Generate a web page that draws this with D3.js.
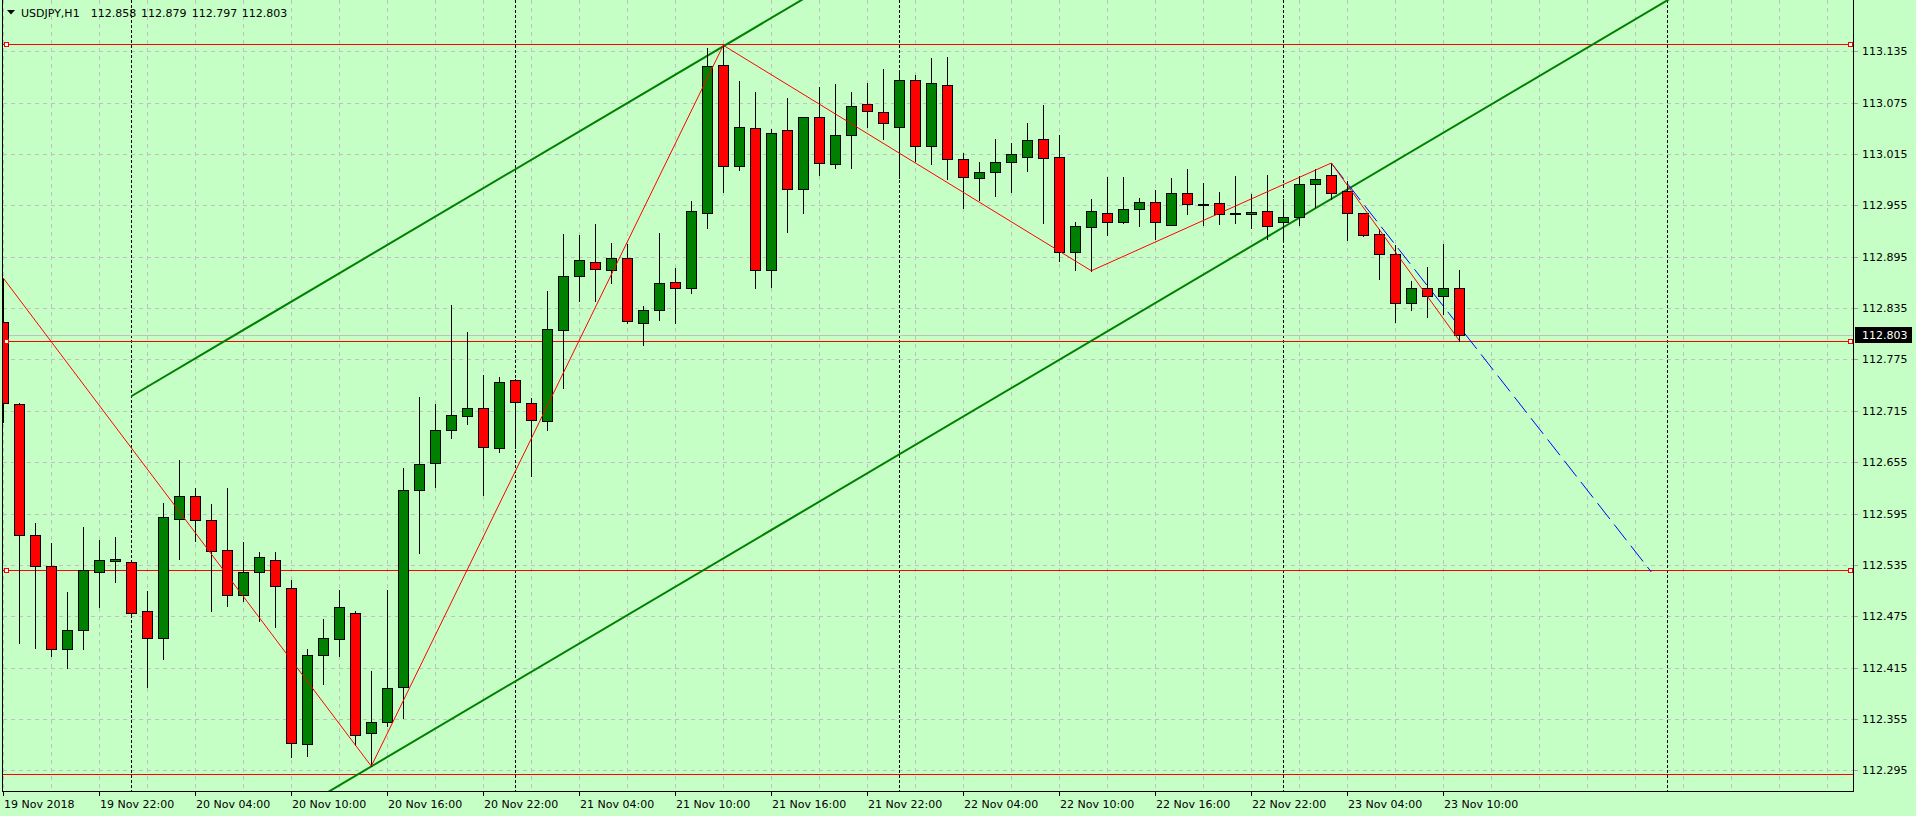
<!DOCTYPE html>
<html><head><meta charset="utf-8">
<script src="https://cdn.jsdelivr.net/npm/d3@7"></script>
<style>
html,body{margin:0;padding:0;background:#c6ffc6;overflow:hidden}
svg{display:block}
text{font-family:"DejaVu Sans",sans-serif;font-size:11px}
</style>
</head><body>
<svg id="chart" width="1916" height="816"></svg>
<script>
// ---------------- data ----------------
const symbolTitle = "USDJPY,H1";
const titleValues = ["112.858", "112.879", "112.797", "112.803"];

const opens = [112.819,112.723,112.570,112.534,112.437,112.459,112.527,112.540,112.538,112.481,
 112.449,112.589,112.615,112.587,112.552,112.500,112.527,112.541,112.508,112.326,
 112.430,112.448,112.479,112.339,112.352,112.392,112.623,112.654,112.692,112.709,
 112.718,112.672,112.751,112.724,112.703,112.809,112.872,112.889,112.879,112.893,
 112.818,112.833,112.865,112.858,112.946,113.119,113.001,113.045,112.880,113.043,
 112.974,113.058,113.003,113.037,113.074,113.064,113.047,113.101,113.024,113.096,
 113.009,112.987,112.994,113.006,113.012,113.032,113.012,112.900,112.930,112.946,
 112.936,112.951,112.959,112.932,112.970,112.957,112.958,112.946,112.945,112.948,
 112.936,112.941,112.980,112.991,112.972,112.946,112.922,112.898,112.841,112.858,
 112.849,112.858];
const highs = [112.870,112.724,112.584,112.560,112.503,112.579,112.564,112.568,112.539,112.504,
 112.607,112.657,112.625,112.606,112.625,112.562,112.550,112.550,112.517,112.437,
 112.472,112.506,112.481,112.411,112.506,112.648,112.731,112.723,112.839,112.807,
 112.757,112.755,112.752,112.730,112.855,112.921,112.920,112.933,112.911,112.910,
 112.837,112.923,112.882,112.960,113.139,113.142,113.100,113.088,113.044,113.080,
 113.058,113.093,113.097,113.088,113.098,113.114,113.111,113.107,113.127,113.128,
 113.016,113.006,113.032,113.028,113.051,113.072,113.037,112.936,112.962,112.988,
 112.988,112.964,112.973,112.987,112.998,112.981,112.971,112.989,112.968,112.991,
 112.962,112.989,112.998,113.005,112.983,112.946,112.927,112.909,112.867,112.883,
 112.910,112.879];
const lows = [112.702,112.444,112.438,112.429,112.415,112.437,112.486,112.515,112.476,112.392,
 112.425,112.542,112.563,112.481,112.487,112.493,112.469,112.462,112.311,112.312,
 112.396,112.429,112.324,112.300,112.347,112.356,112.549,112.626,112.683,112.699,
 112.617,112.667,112.671,112.639,112.692,112.742,112.843,112.843,112.864,112.818,
 112.792,112.821,112.818,112.853,112.929,112.971,112.996,112.859,112.860,112.924,
 112.946,112.991,112.999,112.999,113.046,113.032,112.987,113.007,113.003,112.986,
 112.952,112.961,112.966,112.971,112.995,112.934,112.890,112.880,112.878,112.920,
 112.934,112.931,112.916,112.932,112.945,112.932,112.933,112.934,112.928,112.916,
 112.916,112.932,112.953,112.963,112.915,112.919,112.869,112.819,112.833,112.825,
 112.828,112.797];
const closes = [112.724,112.570,112.534,112.437,112.459,112.529,112.541,112.542,112.479,112.449,
 112.591,112.615,112.588,112.551,112.500,112.527,112.544,112.510,112.327,112.430,
 112.449,112.486,112.336,112.351,112.391,112.622,112.653,112.692,112.710,112.718,
 112.673,112.749,112.725,112.704,112.810,112.872,112.891,112.881,112.893,112.820,
 112.833,112.864,112.858,112.948,113.118,113.001,113.046,112.880,113.039,112.974,
 113.058,113.004,113.037,113.071,113.065,113.051,113.102,113.024,113.098,113.009,
 112.988,112.994,113.006,113.015,113.031,113.010,112.901,112.931,112.948,112.935,
 112.951,112.959,112.935,112.970,112.957,112.957,112.945,112.946,112.947,112.931,
 112.941,112.980,112.986,112.969,112.946,112.920,112.898,112.841,112.858,112.849,
 112.858,112.803];

const priceTicks = [113.135,113.075,113.015,112.955,112.895,112.835,112.775,112.715,
 112.655,112.595,112.535,112.475,112.415,112.355,112.295];
const timeTickBars = [0,6,12,18,24,30,36,42,48,54,60,66,72,78,84,90];
const timeTickLabels = ["19 Nov 2018","19 Nov 22:00","20 Nov 04:00","20 Nov 10:00","20 Nov 16:00",
 "20 Nov 22:00","21 Nov 04:00","21 Nov 10:00","21 Nov 16:00","21 Nov 22:00","22 Nov 04:00",
 "22 Nov 10:00","22 Nov 16:00","22 Nov 22:00","23 Nov 04:00","23 Nov 10:00"];
const daySeparatorBars = [8,32,56,80,104];

const currentPrice = 112.803;
const horizontalLevels = [113.143,112.797,112.529,112.291];
const levelMarked = [true,true,true,false];

const zigzagBars = [0,23,45,68,83,91];
const zigzagPrices = [112.870,112.2998,113.142,112.8786,113.0045,112.797];

const channelLowerBar = 23;
const channelLowerPrice = 112.2995;
const channelSlopePerBar = 0.01105;
const channelUpperBar = 8;
const channelUpperPrice = 112.732;

const trendBars = [83,103];
const trendPrices = [113.0045,112.5267];

// ---------------- layout ----------------
const W = 1916, H = 816;
const plotLeft = 3, plotRight = 1853, plotBottom = 791;
const svg = d3.select("#chart");

const x = d3.scaleLinear().domain([0, 91]).range([3.3, 3.3 + 16 * 91]);
const y = d3.scaleLinear().domain([112.295, 113.135]).range([770.3, 51.3]);
const px = v => Math.floor(x(v)) + 0.5;
const py = v => Math.round(y(v)) + 0.5;

svg.append("rect").attr("width", W).attr("height", H).attr("fill", "#c6ffc6");

svg.append("defs").append("clipPath").attr("id", "plot")
  .append("rect").attr("x", plotLeft).attr("y", 0)
  .attr("width", plotRight - plotLeft).attr("height", plotBottom);

const plot = svg.append("g").attr("clip-path", "url(#plot)");

// grid
const gridColor = "#c0c0c0";
plot.append("g").selectAll("line").data(priceTicks).join("line")
  .attr("x1", plotLeft).attr("x2", plotRight)
  .attr("y1", d => py(d)).attr("y2", d => py(d))
  .attr("stroke", gridColor).attr("stroke-dasharray", "4,4");
const gridBars = d3.range(0, 120, 3).filter(b => x(b) < plotRight);
plot.append("g").selectAll("line").data(gridBars).join("line")
  .attr("x1", d => px(d)).attr("x2", d => px(d))
  .attr("y1", 0).attr("y2", plotBottom)
  .attr("stroke", gridColor).attr("stroke-dasharray", "4,4");

// period separators
plot.append("g").selectAll("line").data(daySeparatorBars).join("line")
  .attr("x1", d => px(d)).attr("x2", d => px(d))
  .attr("y1", 0).attr("y2", plotBottom)
  .attr("stroke", "#000").attr("stroke-dasharray", "3,2");

// bid line
plot.append("line").attr("x1", plotLeft).attr("x2", plotRight)
  .attr("y1", py(currentPrice)).attr("y2", py(currentPrice))
  .attr("stroke", "#c0c0c0");

// horizontal level objects
const lv = plot.append("g");
lv.selectAll("line").data(horizontalLevels).join("line")
  .attr("x1", plotLeft).attr("x2", plotRight)
  .attr("y1", d => py(d)).attr("y2", d => py(d))
  .attr("stroke", "#ff0000");

// channel
const farBar = 140;
const lowerAt = b => channelLowerPrice + (b - channelLowerBar) * channelSlopePerBar;
const upperAt = b => channelUpperPrice + (b - channelUpperBar) * channelSlopePerBar;
const line = d3.line().x(d => x(d[0])).y(d => y(d[1]));
plot.append("path").attr("d", line([[channelUpperBar, upperAt(channelUpperBar)], [farBar, upperAt(farBar)]]))
  .attr("fill", "none").attr("stroke", "#008000").attr("stroke-width", 2);
plot.append("path").attr("d", line([[channelUpperBar, lowerAt(channelUpperBar)], [farBar, lowerAt(farBar)]]))
  .attr("fill", "none").attr("stroke", "#008000").attr("stroke-width", 2);

// blue trend line
plot.append("path").attr("d", line(trendBars.map((b, i) => [b, trendPrices[i]])))
  .attr("fill", "none").attr("stroke", "#0000ff").attr("stroke-dasharray", "20,7");

// candles
const candles = opens.map((o, i) => ({ i, o, h: highs[i], l: lows[i], c: closes[i] }));
const cg = plot.append("g");
cg.selectAll("line").data(candles).join("line")
  .attr("x1", d => px(d.i)).attr("x2", d => px(d.i))
  .attr("y1", d => Math.round(y(d.h))).attr("y2", d => Math.round(y(d.l)) + 1)
  .attr("stroke", "#000");
cg.selectAll("rect").data(candles).join("rect")
  .attr("x", d => px(d.i) - 5)
  .attr("width", 10)
  .attr("y", d => Math.round(y(Math.max(d.o, d.c))) + 0.5)
  .attr("height", d => Math.max(Math.round(y(Math.min(d.o, d.c))) - Math.round(y(Math.max(d.o, d.c))), 1))
  .attr("fill", d => d.c >= d.o ? "#008000" : "#ff0000")
  .attr("stroke", "#000");

// zigzag indicator
plot.append("path").attr("d", line(zigzagBars.map((b, i) => [b, zigzagPrices[i]])))
  .attr("fill", "none").attr("stroke", "#ff0000").attr("stroke-width", 1);

// level markers
horizontalLevels.forEach((p, i) => {
  if (!levelMarked[i]) return;
  [4.5, 1848.5].forEach(mx => {
    svg.append("rect").attr("x", mx).attr("y", Math.round(y(p)) - 1.5)
      .attr("width", 4).attr("height", 4)
      .attr("fill", "#fff").attr("stroke", "#ff0000");
  });
});

// frame
svg.append("line").attr("x1", 2.5).attr("x2", 2.5).attr("y1", 0).attr("y2", plotBottom + 1).attr("stroke", "#000");
svg.append("line").attr("x1", plotRight + 0.5).attr("x2", plotRight + 0.5).attr("y1", 0).attr("y2", plotBottom + 1).attr("stroke", "#000");
svg.append("line").attr("x1", 2).attr("x2", plotRight + 1).attr("y1", plotBottom + 0.5).attr("y2", plotBottom + 0.5).attr("stroke", "#000");

// price axis
const ya = svg.append("g");
ya.selectAll("line").data(priceTicks).join("line")
  .attr("x1", plotRight + 1).attr("x2", plotRight + 5)
  .attr("y1", d => py(d)).attr("y2", d => py(d)).attr("stroke", "#a0a0a0");
ya.selectAll("text").data(priceTicks).join("text")
  .attr("x", 1862).attr("y", d => y(d) + 4)
  .attr("fill", "#000")
  .text(d => d3.format(".3f")(d));
svg.append("rect").attr("x", 1855).attr("y", Math.round(y(currentPrice)) - 8)
  .attr("width", 57).attr("height", 16).attr("fill", "#000");
svg.append("text").attr("x", 1862).attr("y", y(currentPrice) + 4)
  .attr("fill", "#fff").text(d3.format(".3f")(currentPrice));

// time axis
const xa = svg.append("g");
xa.selectAll("line").data(timeTickBars).join("line")
  .attr("x1", d => px(d)).attr("x2", d => px(d))
  .attr("y1", plotBottom + 1).attr("y2", plotBottom + 5).attr("stroke", "#000");
xa.selectAll("text").data(timeTickBars).join("text")
  .attr("x", d => Math.floor(x(d)) + 1).attr("y", 808)
  .attr("fill", "#000")
  .text((d, i) => timeTickLabels[i]);

// title
svg.append("path").attr("d", "M7,10 L15,10 L11,14.5 Z").attr("fill", "#000");
svg.append("text").attr("x", 21).attr("y", 17).attr("fill", "#000").text(symbolTitle);
const titleX = [90.7, 141, 191.7, 241.7];
titleValues.forEach((t, i) => svg.append("text").attr("x", titleX[i]).attr("y", 17).attr("fill", "#000").text(t));
</script>
</body></html>
